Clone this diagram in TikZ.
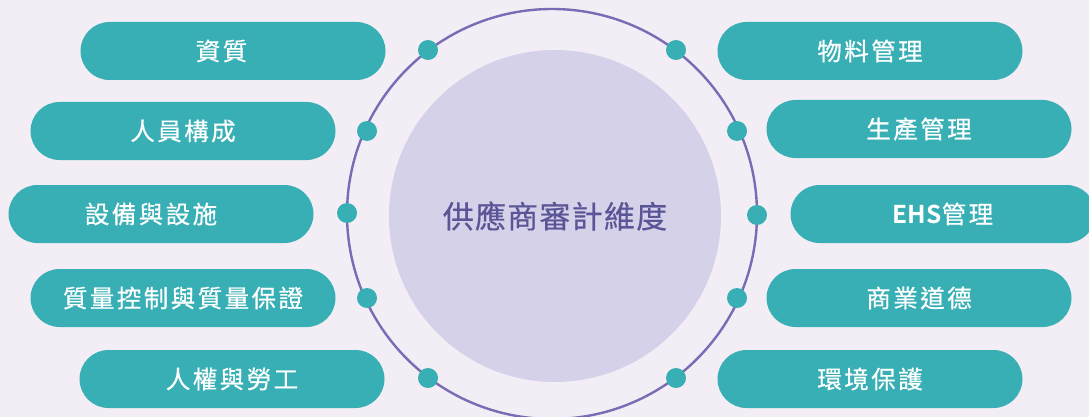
\documentclass[tikz,border=0pt]{standalone}
\usepackage{fontspec}
\newfontfamily\pillfont{Noto Sans CJK TC}[LetterSpace=10,FakeBold=0.6]
\newfontfamily\latinbold{Noto Sans CJK TC Bold}
\newfontfamily\hubfont{Noto Sans CJK TC}[LetterSpace=4,FakeBold=0.5]
\definecolor{bgc}{HTML}{F3EEF6}
\definecolor{teal}{HTML}{38AFB4}
\definecolor{ringc}{HTML}{7A6BB5}
\definecolor{hubc}{HTML}{D4D1E8}
\definecolor{hubtext}{HTML}{5A5596}
\tikzset{
  pill/.style={fill=teal, draw=none, rounded corners=29pt, minimum width=305pt,
    minimum height=58pt, inner sep=0pt, text=white, font=\pillfont\fontsize{24.5}{27}\selectfont},
  dot/.style={circle, fill=teal, draw=none, minimum size=20pt, inner sep=0pt},
  hub/.style={circle, fill=hubc, draw=none, minimum size=332pt, inner sep=0pt,
    text=hubtext, font=\hubfont\fontsize{31}{35}\selectfont},
}
\begin{document}
\begin{tikzpicture}[x=1pt,y=-1pt]
\useasboundingbox (0,0) rectangle (1089,417);
\fill[bgc] (0,0) rectangle (1089,417);
\begin{scope}
\clip (0,0) rectangle (1089,417);
\draw[ringc, line width=2.4pt] (552,214) circle[radius=205pt];
\node[hub] (hub) at (555,216) {供應商審計維度};
% left pills
\node[pill] (p1) at (233,51) {資質\hspace*{23pt}};
\node[pill] (p2) at (183,131) {人員構成};
\node[pill] (p3) at (161,214) {設備與設施\hspace*{20pt}};
\node[pill] (p4) at (183,298) {質量控制與質量保證};
\node[pill] (p5) at (232,379) {人權與勞工};
% right pills
\node[pill] (p6) at (870,51) {物料管理};
\node[pill] (p7) at (919,129) {生產管理};
\node[pill] (p8) at (943,214) {{\latinbold EHS}管理};
\node[pill] (p9) at (919,298) {商業道德};
\node[pill] (p10) at (870,379) {環境保護};
% dots on the ring
\node[dot] (d1) at (428,50) {};
\node[dot] (d2) at (367,131) {};
\node[dot] (d3) at (347,213) {};
\node[dot] (d4) at (367,298) {};
\node[dot] (d5) at (428,378) {};
\node[dot] (d6) at (676,50) {};
\node[dot] (d7) at (737,131) {};
\node[dot] (d8) at (757,215) {};
\node[dot] (d9) at (737,298) {};
\node[dot] (d10) at (676,378) {};
\end{scope}
\end{tikzpicture}
\end{document}
